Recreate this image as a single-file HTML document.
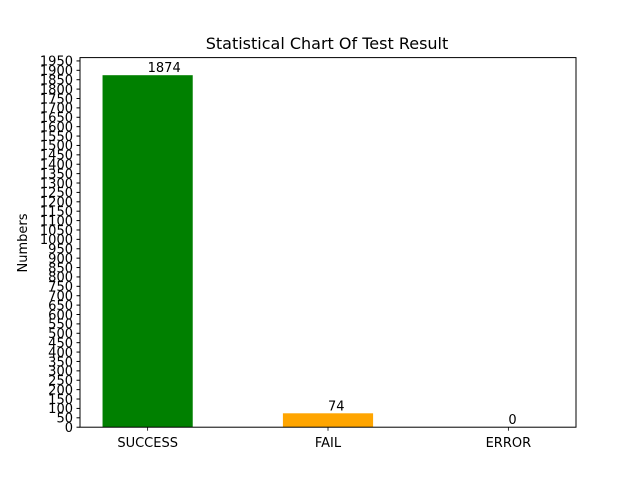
<!DOCTYPE html>
<html><head><meta charset="utf-8"><style>body{margin:0;background:#fff}svg{display:block}text{font-family:"DejaVu Sans","Liberation Sans",sans-serif;fill:#000}</style></head>
<body>
<svg id="chart" width="640" height="480" xmlns="http://www.w3.org/2000/svg"></svg>
<script>
const categories = ["SUCCESS", "FAIL", "ERROR"];
const values = [1874, 74, 0];
const colors = ["green", "orange", "red"];
const yTicks = [];
for (let t = 0; t <= 1950; t += 50) yTicks.push(t);

const svg = document.getElementById('chart');
const NS = 'http://www.w3.org/2000/svg';
const L = 80, R = 576, T = 57.6, B = 427.2;
const ymax = Math.max(...values) * 1.05;
const y = v => B - v / ymax * (B - T);
const xmin = -0.375, xmax = categories.length - 1 + 0.375;
const x = i => L + (i - xmin) / (xmax - xmin) * (R - L);
function mk(tag, attrs, txt) {
  const e = document.createElementNS(NS, tag);
  for (const k in attrs) e.setAttribute(k, attrs[k]);
  if (txt !== undefined) e.textContent = txt;
  svg.appendChild(e);
  return e;
}
let e = mk('text', {x: 327, y: 49, 'font-size': 16, 'text-anchor': 'middle'}, 'Statistical Chart Of Test Result');


e = mk('text', {x: 27, y: 243, 'font-size': 13, 'text-anchor': 'middle', transform: 'rotate(-90 27 243)'}, 'Numbers');


const bw = 0.5 / (xmax - xmin) * (R - L);
values.forEach((v, i) => {
  const r = mk('rect', {x: x(i) - bw / 2, y: y(v), width: bw, height: B - y(v), fill: colors[i]});
  
  
  const t = mk('text', {x: x(i), y: y(v) - 3, 'font-size': 13, 'text-anchor': 'start'}, String(v));
  
  
  const tk = mk('line', {x1: x(i), x2: x(i), y1: B, y2: B + 3.5, stroke: '#000', 'stroke-width': 0.8});
  
  
  const tl = mk('text', {x: x(i), y: B + 20, 'font-size': 13, 'text-anchor': 'middle'}, categories[i]);
  
  
});
yTicks.forEach(t => {
  const ln = mk('line', {x1: L - 3.5, x2: L, y1: y(t), y2: y(t), stroke: '#000', 'stroke-width': 1});
  
  
  const tl = mk('text', {x: L - 7, y: y(t) + 4.8, 'font-size': 13, 'text-anchor': 'end'}, String(t));
  
  
});
e = mk('rect', {x: L, y: T, width: R - L, height: B - T, fill: 'none', stroke: '#000', 'stroke-width': 1});


</script>
</body></html>
